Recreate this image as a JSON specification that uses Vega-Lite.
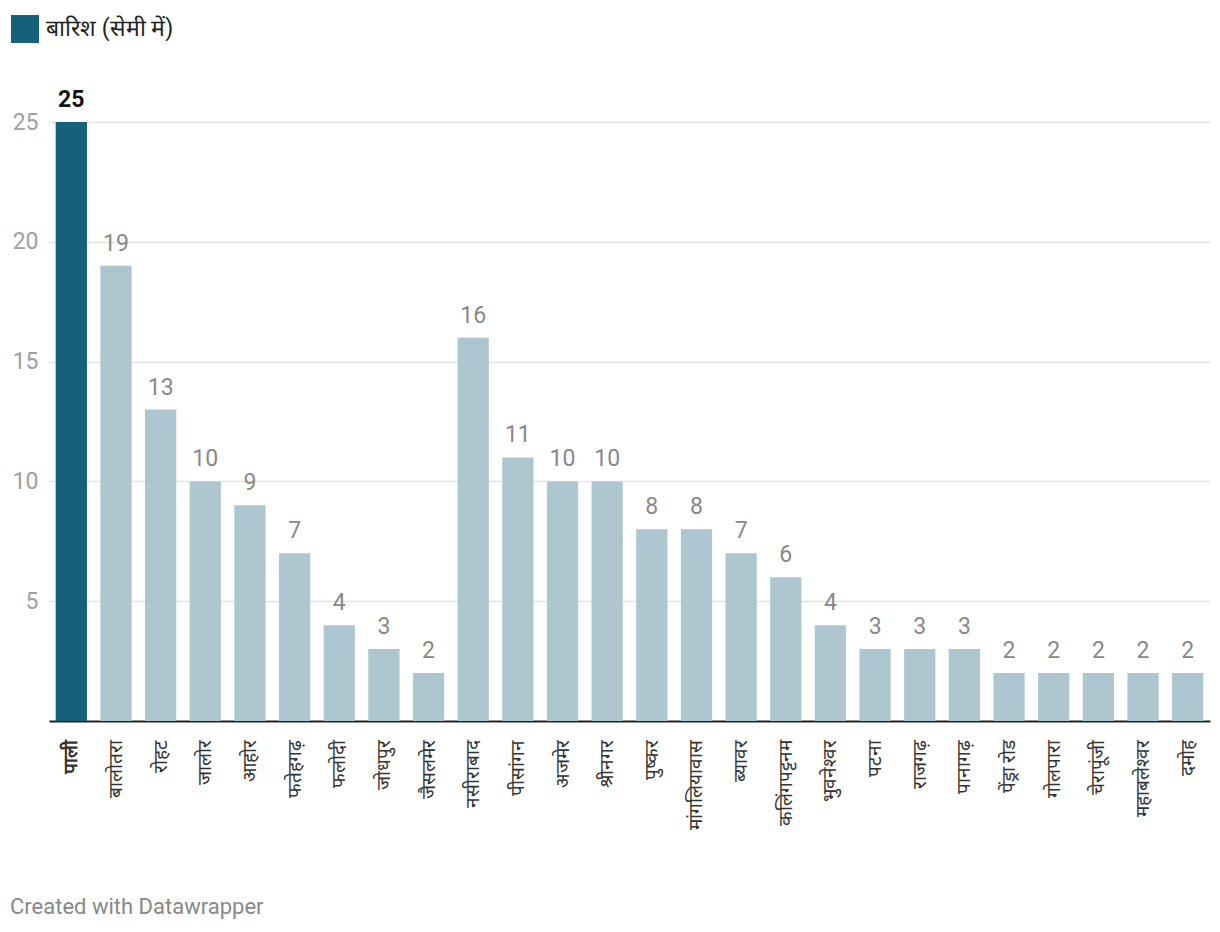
{
  "$schema": "https://vega.github.io/schema/vega-lite/v6.json",
  "autosize": {"type": "none"},
  "padding": {"left": 49, "top": 122, "right": 10, "bottom": 211},
  "width": 1161,
  "height": 599,
  "background": "white",
  "config": {"font": "Roboto", "view": {"stroke": null}},
  "title": {"text": "Created with Datawrapper", "orient": "bottom", "anchor": "start", "frame": "group", "dx": -39, "offset": 68, "fontSize": 22, "fontWeight": "normal", "color": "#888888", "font": "Roboto"},
  "data": {"values": [
    {"city": "पाली", "rain": 25, "series": "बारिश (सेमी में)"},
    {"city": "बालोतरा", "rain": 19, "series": "अन्य"},
    {"city": "रोहट", "rain": 13, "series": "अन्य"},
    {"city": "जालोर", "rain": 10, "series": "अन्य"},
    {"city": "आहोर", "rain": 9, "series": "अन्य"},
    {"city": "फतेहगढ़", "rain": 7, "series": "अन्य"},
    {"city": "फलोदी", "rain": 4, "series": "अन्य"},
    {"city": "जोधपुर", "rain": 3, "series": "अन्य"},
    {"city": "जैसलमेर", "rain": 2, "series": "अन्य"},
    {"city": "नसीराबाद", "rain": 16, "series": "अन्य"},
    {"city": "पीसांगन", "rain": 11, "series": "अन्य"},
    {"city": "अजमेर", "rain": 10, "series": "अन्य"},
    {"city": "श्रीनगर", "rain": 10, "series": "अन्य"},
    {"city": "पुष्कर", "rain": 8, "series": "अन्य"},
    {"city": "मांगलियावास", "rain": 8, "series": "अन्य"},
    {"city": "ब्यावर", "rain": 7, "series": "अन्य"},
    {"city": "कलिंगपट्टनम", "rain": 6, "series": "अन्य"},
    {"city": "भुवनेश्वर", "rain": 4, "series": "अन्य"},
    {"city": "पटना", "rain": 3, "series": "अन्य"},
    {"city": "राजगढ़", "rain": 3, "series": "अन्य"},
    {"city": "पानागढ़", "rain": 3, "series": "अन्य"},
    {"city": "पेंड्रा रोड", "rain": 2, "series": "अन्य"},
    {"city": "गोलपारा", "rain": 2, "series": "अन्य"},
    {"city": "चेरापूंजी", "rain": 2, "series": "अन्य"},
    {"city": "महाबलेश्वर", "rain": 2, "series": "अन्य"},
    {"city": "दमोह", "rain": 2, "series": "अन्य"}
  ]},
  "encoding": {
    "x": {"field": "city", "type": "nominal", "sort": null,
      "scale": {"paddingInner": 0.3, "paddingOuter": 0.15},
      "axis": {"title": null, "labelAngle": -90, "labelAlign": "right", "labelBaseline": "middle", "labelPadding": 18, "ticks": false,
        "labelFontSize": 19, "labelColor": "#333333", "labelFont": "Roboto",
        "labelFontWeight": {"condition": {"test": "datum.value === 'पाली'", "value": "bold"}, "value": "normal"},
        "domain": true, "domainColor": "#222222", "domainWidth": 2, "labelOverlap": false, "labelLimit": 200}},
    "y": {"field": "rain", "type": "quantitative", "scale": {"domain": [0, 25], "nice": false},
      "axis": {"title": null, "values": [5, 10, 15, 20, 25], "domain": false, "ticks": false, "labelPadding": 11, "labelFontSize": 23, "labelColor": "#a0a0a0", "labelFont": "Roboto", "gridColor": "#e3e3e3", "gridWidth": 1.5, "labelBaseline": "middle"}}
  },
  "layer": [
    {"mark": {"type": "bar"},
      "encoding": {"color": {"field": "series", "type": "nominal",
        "scale": {"domain": ["बारिश (सेमी में)", "अन्य"], "range": ["#15607a", "#adc6cf"]},
        "legend": {"title": null, "values": ["बारिश (सेमी में)"], "orient": "none", "legendX": -39, "legendY": -108, "symbolType": "square", "symbolSize": 784, "symbolOpacity": 1, "labelFontSize": 23, "labelColor": "#222222", "labelFont": "Roboto", "labelOffset": 6}}}},
    {"transform": [{"filter": "datum.city !== 'पाली'"}],
      "mark": {"type": "text", "baseline": "alphabetic", "dy": -15, "fontSize": 23, "font": "Roboto", "color": "#888888"},
      "encoding": {"text": {"field": "rain", "type": "quantitative"}}},
    {"transform": [{"filter": "datum.city === 'पाली'"}],
      "mark": {"type": "text", "baseline": "alphabetic", "dy": -15, "fontSize": 23, "font": "Roboto", "fontWeight": "bold", "color": "#111111"},
      "encoding": {"text": {"field": "rain", "type": "quantitative"}}}
  ]
}
